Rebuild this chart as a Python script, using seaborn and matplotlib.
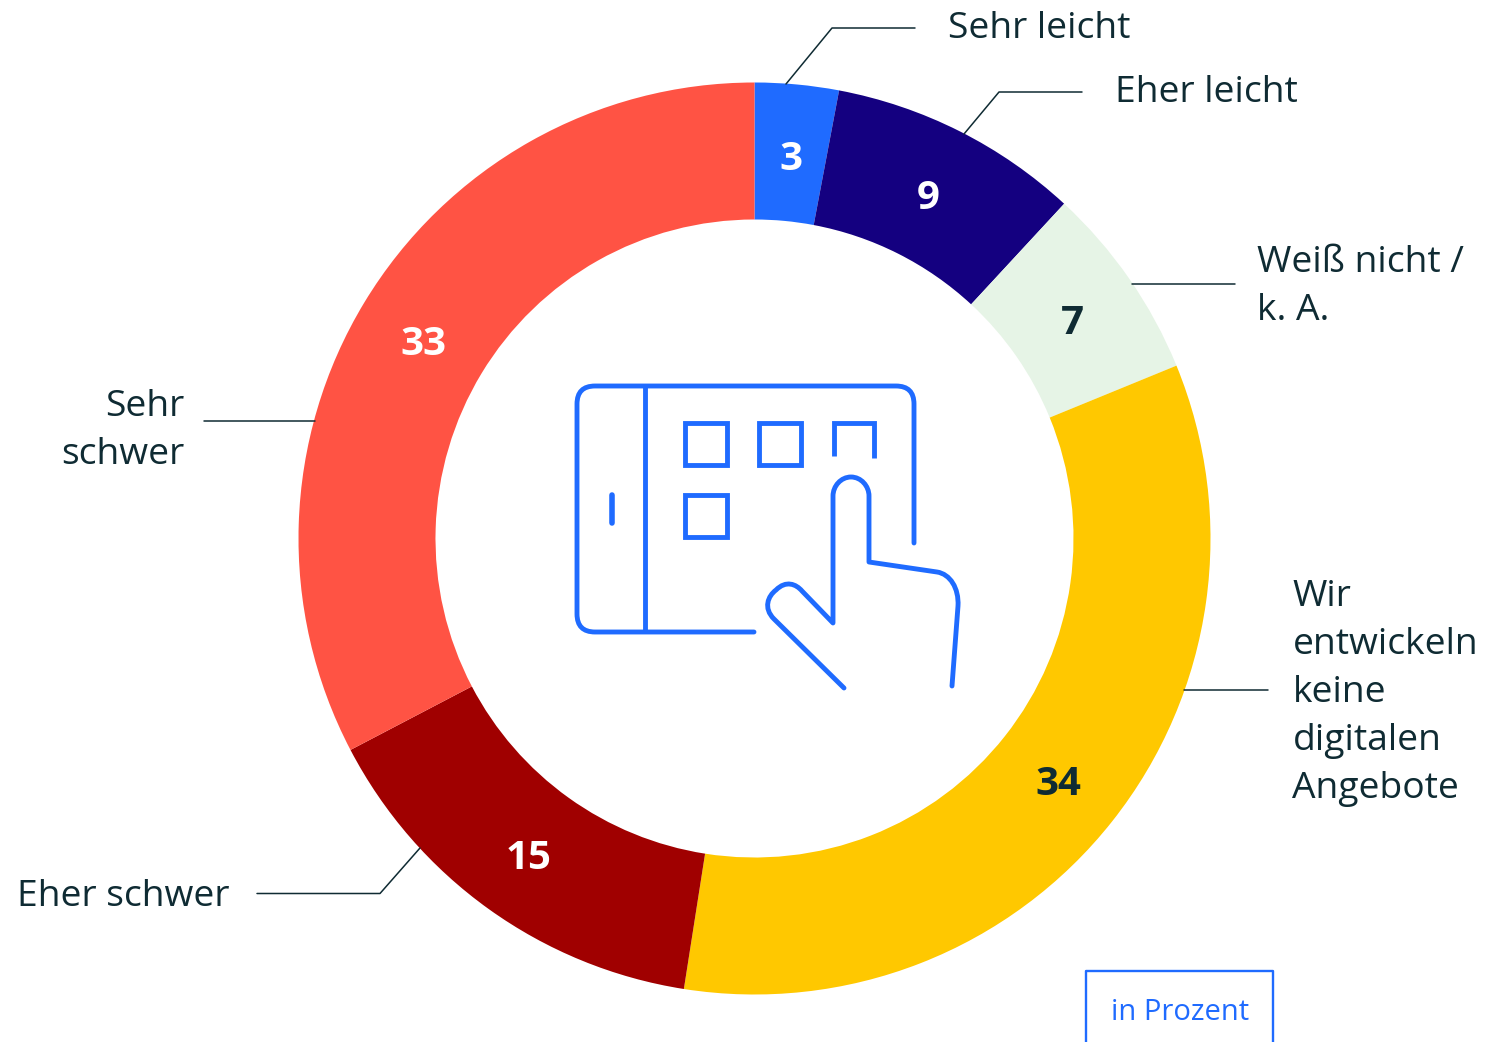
import numpy as np
import matplotlib
matplotlib.use('Agg')
import matplotlib.pyplot as plt
from matplotlib.path import Path
from matplotlib.patches import PathPatch, Rectangle
import seaborn as sns

W, H = 1506, 1042

categories = ['Sehr leicht', 'Eher leicht', 'Weiß nicht / k. A.',
              'Wir entwickeln keine digitalen Angebote', 'Eher schwer', 'Sehr schwer']
values = [3, 9, 7, 34, 15, 33]
colors = ['#1F6BFF', '#140080', '#E6F4E6', '#FFC800', '#A00000', '#FF5344']
value_colors = ['white', 'white', '#0F2B33', '#0F2B33', 'white', 'white']

dark = '#0F2B33'
blue = '#1F6BFF'
icon_lw = 3.5

sns.set_theme(style='white')
plt.rcParams['font.family'] = ['Open Sans', 'DejaVu Sans']


def fy(y):
    # picture rows run downwards, the axes upwards
    return H - y


def icon_line(ax, pts, lw=icon_lw, cap='round'):
    ax.plot([p[0] for p in pts], [fy(p[1]) for p in pts], color=blue, lw=lw,
            solid_capstyle=cap, solid_joinstyle='miter')


def icon_curve(ax, verts, codes, lw=icon_lw):
    path = Path([(x, fy(y)) for x, y in verts], codes)
    ax.add_patch(PathPatch(path, fc='none', ec=blue, lw=lw, capstyle='round', joinstyle='round'))


fig = plt.figure(figsize=(W / 100, H / 100), dpi=100)
ax = fig.add_axes([0, 0, 1, 1])

wedges, _ = ax.pie(values, colors=colors, startangle=90, counterclock=False,
                   radius=456, center=(754.5, fy(538.5)),
                   wedgeprops={'width': 137, 'linewidth': 0})
ax.set_xlim(0, W)
ax.set_ylim(0, H)
ax.set_aspect('equal')
ax.axis('off')

# values in the ring
for wedge, val, col in zip(wedges, values, value_colors):
    mid = np.deg2rad((wedge.theta1 + wedge.theta2) / 2)
    x = wedge.center[0] + 387 * np.cos(mid)
    y = wedge.center[1] + 387 * np.sin(mid) - 6
    ax.text(x, y, str(val), color=col, fontsize=29, fontweight='bold', ha='center', va='center')

# outside labels, one text per line
labels = [
    ('Sehr leicht', 948, 38.5, 'left'),
    ('Eher leicht', 1115.5, 102.5, 'left'),
    ('Weiß nicht /', 1257, 272, 'left'),
    ('k. A.', 1257, 320, 'left'),
    ('Wir', 1292.5, 606.5, 'left'),
    ('entwickeln', 1292.5, 654.5, 'left'),
    ('keine', 1292.5, 702.5, 'left'),
    ('digitalen', 1292.5, 750, 'left'),
    ('Angebote', 1292.5, 798, 'left'),
    ('Sehr', 184.5, 416.5, 'right'),
    ('schwer', 184.5, 464.5, 'right'),
    ('Eher schwer', 17.5, 906.5, 'left'),
]
for txt, x, y, ha in labels:
    ax.text(x, fy(y), txt, color=dark, fontsize=26.8, ha=ha, va='baseline')

leaders = [
    [(786, 84), (832, 28), (915, 28)],
    [(964, 134), (999, 92), (1082, 92)],
    [(1132, 284), (1235, 284)],
    [(1184, 690), (1268, 690)],
    [(420, 848), (380, 893.5), (257, 893.5)],
    [(315, 421), (204, 421)],
]
for pts in leaders:
    ax.plot([p[0] for p in pts], [fy(p[1]) for p in pts], color=dark, lw=1.1)

# "in Prozent" box, open at the bottom edge
ax.plot([1086, 1086, 1273.5, 1273.5], [fy(1042), fy(971), fy(971), fy(1042)], color=blue, lw=1.7)
ax.text(1180, fy(1019.5), 'in Prozent', color=blue, fontsize=21, ha='center', va='baseline')

# tablet icon
C3, C4, M, L = Path.CURVE3, Path.CURVE4, Path.MOVETO, Path.LINETO
icon_curve(ax, [(754, 632), (595, 632), (577, 632), (577, 614), (577, 404), (577, 386), (595, 386),
                (896, 386), (914, 386), (914, 404), (914, 543)],
           [M, L, C3, C3, L, C3, C3, L, C3, C3, L])
icon_line(ax, [(645, 386), (645, 632)], cap='butt')
icon_line(ax, [(612, 495), (612, 523)], lw=4)
for sx, sy in [(685, 423), (759, 423), (685.5, 495)]:
    ax.add_patch(Rectangle((sx, fy(sy + 42)), 42, 42, fc='none', ec=blue, lw=icon_lw))
icon_line(ax, [(834, 456), (834, 423), (874, 423), (874, 458)], cap='butt')
icon_curve(ax, [(844, 688), (774, 619),
                (763, 608), (768, 596), (776, 590),
                (786, 580), (796, 584), (802, 591),
                (833, 623), (833, 496),
                (833, 486), (841, 477), (851, 477),
                (861, 477), (869, 486), (869, 496),
                (869, 562), (937, 572),
                (950, 574), (959, 588), (958, 606),
                (952, 686)],
           [M, L, C4, C4, C4, C4, C4, C4, L, L, C4, C4, C4, C4, C4, C4, L, L, C4, C4, C4, L])

fig.savefig('out.png', dpi=100)
